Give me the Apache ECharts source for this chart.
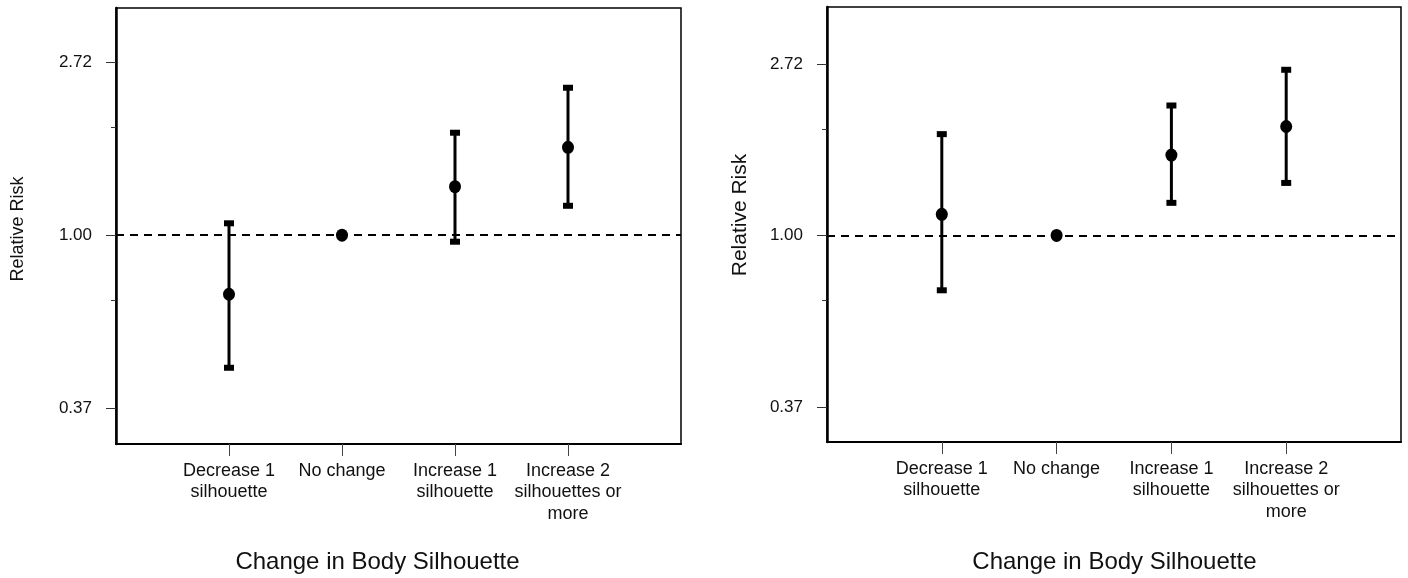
<!DOCTYPE html>
<html>
<head>
<meta charset="utf-8">
<script src="https://cdn.jsdelivr.net/npm/echarts@6/dist/echarts.min.js"></script>
<style>
html,body{margin:0;padding:0;background:#fff;}
#chart{width:1408px;height:578px;}
</style>
</head>
<body>
<div id="chart"></div>
<script>
// ---- data ----
const categories = ['Decrease 1\nsilhouette', 'No change', 'Increase 1\nsilhouette', 'Increase 2\nsilhouettes or\nmore'];
const leftRR    = [0.711, 1.00, 1.323, 1.661];
const leftLower = [0.465, null, 0.963, 1.185];
const leftUpper = [1.071, null, 1.807, 2.343];
const rightRR    = [1.131, 1.00, 1.597, 1.887];
const rightLower = [0.726, null, 1.209, 1.358];
const rightUpper = [1.805, null, 2.133, 2.627];
const yTickRR = [Math.exp(-1), 1, Math.exp(1)];   // labelled 0.37, 1.00, 2.72
const yMinorRR = [0.685, 1.86];
const referenceRR = 1.00;
const xTitle = 'Change in Body Silhouette';
const yTitle = 'Relative Risk';

const FONT = '"Liberation Sans", Arial, sans-serif';
const ln = Math.log;

function renderBar(params, api) {
  const x = api.value(0);
  const pLo = api.coord([x, api.value(1)]);
  const pHi = api.coord([x, api.value(2)]);
  return {
    type: 'group',
    children: [
      {type: 'line', shape: {x1: pLo[0], y1: pLo[1], x2: pHi[0], y2: pHi[1]}, style: {stroke: '#000', lineWidth: 3}},
      {type: 'rect', shape: {x: pHi[0] - 5, y: pHi[1] - 3, width: 10, height: 6}, style: {fill: '#000'}},
      {type: 'rect', shape: {x: pLo[0] - 5, y: pLo[1] - 3, width: 10, height: 6}, style: {fill: '#000'}}
    ]
  };
}

function barData(lower, upper) {
  const out = [];
  lower.forEach((lo, i) => {
    if (lo != null && upper[i] != null) out.push([i + 1, ln(lo), ln(upper[i])]);
  });
  return out;
}
function pointData(rr) { return rr.map((v, i) => [i + 1, ln(v)]); }

const grids = [
  {left: 116, top: 8, width: 565, height: 436},
  {left: 827, top: 7, width: 574, height: 435}
];
const yRanges = [[-1.206, 1.312], [-1.205, 1.332]];

const xAxes = [], yAxes = [], series = [];
grids.forEach((g, gi) => {
  xAxes.push({
    type: 'category', gridIndex: gi, boundaryGap: false, position: 'bottom',
    data: [''].concat(categories).concat(['']),
    axisLine: {show: true, onZero: false, lineStyle: {color: '#000', width: 2}},
    axisTick: {show: true, length: 12, interval: (idx) => idx >= 1 && idx <= 4, lineStyle: {color: '#444', width: 1}},
    axisLabel: {interval: 0, margin: 16, fontFamily: FONT, fontSize: 18, color: '#111', lineHeight: 21.5, align: 'center'},
    splitLine: {show: false}
  });
  yAxes.push({
    type: 'value', gridIndex: gi, position: 'left', min: yRanges[gi][0], max: yRanges[gi][1],
    axisLine: {show: true, onZero: false, lineStyle: {color: '#000', width: 2.5}},
    axisTick: {show: true, length: 10, customValues: yTickRR.map(ln), lineStyle: {color: '#333', width: 1}},
    axisLabel: {customValues: yTickRR.map(ln), margin: 24, fontFamily: FONT, fontSize: 17, color: '#111',
      padding: [0, 0, 7, 0],
      formatter: (v) => Math.exp(v).toFixed(2)},
    splitLine: {show: false}
  });
  yAxes.push({
    type: 'value', gridIndex: gi, position: 'left', min: yRanges[gi][0], max: yRanges[gi][1],
    axisLine: {show: false, onZero: false},
    axisTick: {show: true, length: 5, customValues: yMinorRR.map(ln), lineStyle: {color: '#333', width: 1}},
    axisLabel: {show: false},
    splitLine: {show: false}
  });
});

const sets = [[leftRR, leftLower, leftUpper], [rightRR, rightLower, rightUpper]];
sets.forEach((s, gi) => {
  series.push({
    type: 'custom', xAxisIndex: gi, yAxisIndex: gi * 2, renderItem: renderBar,
    data: barData(s[1], s[2]), z: 3, silent: true
  });
  series.push({
    type: 'scatter', xAxisIndex: gi, yAxisIndex: gi * 2, data: pointData(s[0]),
    symbol: 'circle', symbolSize: [12, 13], itemStyle: {color: '#000', opacity: 1}, z: 4, silent: true,
    markLine: {
      silent: true, symbol: 'none', label: {show: false}, z: 2,
      lineStyle: {type: [8, 6], color: '#000', width: 1.8},
      data: [{yAxis: ln(referenceRR)}]
    }
  });
});

const textStyle = (size) => ({text: '', fontFamily: FONT, fontSize: size, fill: '#111', textAlign: 'center', textVerticalAlign: 'middle'});
const graphic = [
  {type: 'text', x: 377.5, y: 562, style: Object.assign(textStyle(24), {text: xTitle})},
  {type: 'text', x: 1114.4, y: 562, style: Object.assign(textStyle(24), {text: xTitle})},
  {type: 'text', x: 18, y: 229, rotation: Math.PI / 2, style: Object.assign(textStyle(18), {text: yTitle})},
  {type: 'text', x: 740, y: 215, rotation: Math.PI / 2, style: Object.assign(textStyle(21), {text: yTitle})}
];

const chart = echarts.init(document.getElementById('chart'), null, {renderer: 'canvas'});
chart.setOption({
  animation: false,
  backgroundColor: '#fff',
  grid: grids.map(g => Object.assign({show: true, borderColor: '#000', borderWidth: 1.5, backgroundColor: 'transparent', containLabel: false}, g)),
  xAxis: xAxes,
  yAxis: yAxes,
  series: series,
  graphic: graphic
});
</script>
</body>
</html>
